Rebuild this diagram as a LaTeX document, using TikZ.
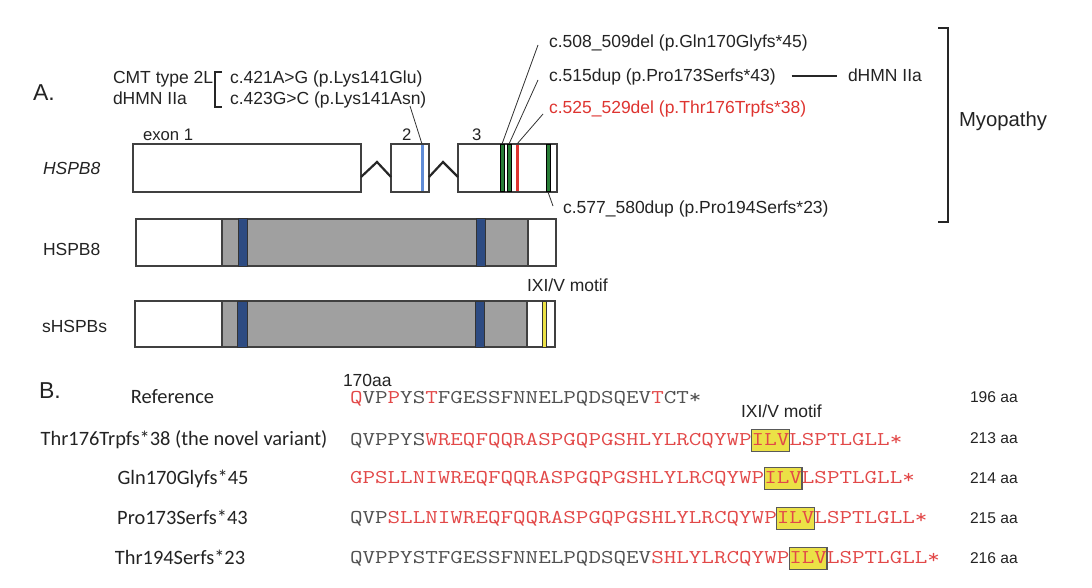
\documentclass[tikz,border=0pt]{standalone}
\usepackage{fontspec}
\setmainfont{Liberation Sans}
\newfontfamily\calfont{Carlito}
\newfontfamily\seqfont[FakeStretch=1.25]{Latin Modern Mono}
\definecolor{txt}{RGB}{35,35,35}
\definecolor{mutred}{RGB}{222,52,48}
\definecolor{seqred}{RGB}{226,72,72}
\definecolor{seqgray}{RGB}{80,80,80}
\definecolor{mutgreen}{RGB}{40,125,55}
\definecolor{mutblue}{RGB}{95,140,215}
\definecolor{acdblue}{RGB}{45,75,130}
\definecolor{coregray}{RGB}{160,160,160}
\definecolor{motifyellow}{RGB}{235,225,70}

\begin{document}
\begin{tikzpicture}[x=1pt, y=-1pt, font=\fontsize{17.5}{20}\selectfont, text=txt]
        \tikzstyle{lab} = [inner sep=0, outer sep=0, anchor=base west]
        \tikzstyle{biglab} = [lab, font=\fontsize{23}{26}\selectfont]
        \tikzstyle{varlab} = [inner sep=0, outer sep=0, anchor=base, font=\calfont\fontsize{20.4}{24}\selectfont]
        \tikzstyle{aalab} = [lab, font=\fontsize{15.6}{18}\selectfont]
        \tikzstyle{exon} = [draw=black!75, line width=1.2pt, fill=white, inner sep=0, outer sep=0, minimum height=48pt, anchor=west]
        \tikzstyle{core} = [draw=black!75, line width=1.2pt, fill=coregray]
        \tikzstyle{acd} = [draw=black!80, line width=1pt, fill=acdblue]
        \tikzstyle{gmark} = [draw=black, line width=0.5pt, fill=mutgreen]
        \tikzstyle{intron} = [draw=black!85, line width=2.2pt]
        \tikzstyle{callout} = [draw=black!80, line width=0.8pt]
        \tikzstyle{brace} = [draw=black!85, line width=2.2pt]
        \tikzstyle{seq} = [inner sep=0, outer sep=0, anchor=base west, text=seqgray, font=\seqfont\fontsize{19.5}{24}\selectfont]
        \tikzstyle{ilv} = [seq, text=seqred, fill=motifyellow, draw=black!65, line width=1.2pt, text height=13pt, text depth=3pt, inner ysep=3pt]

        \useasboundingbox (0,0) rectangle (1092,588);

        \node[biglab] (A) at (33,101) {A.};
        \node[lab] (cmt) at (113,84) {CMT type 2L};
        \node[lab] (dhmn1) at (113,105) {dHMN IIa};
        \node[lab] (c421) at (230,84) {c.421A>G (p.Lys141Glu)};
        \node[lab] (c423) at (230,105) {c.423G>C (p.Lys141Asn)};
        \draw[brace] (222,72) -- (215,72) -- (215,107) -- (222,107);

        \node[lab] (c508) at (549,48) {c.508\_509del (p.Gln170Glyfs*45)};
        \node[lab] (c515) at (549,82) {c.515dup (p.Pro173Serfs*43)};
        \node[lab, text=mutred] (c525) at (549,114) {c.525\_529del (p.Thr176Trpfs*38)};
        \node[lab] (c577) at (563,214) {c.577\_580dup (p.Pro194Serfs*23)};
        \node[lab] (dhmn2) at (848,82) {dHMN IIa};
        \draw[brace] ([xshift=16pt,yshift=6pt]c515.base east) -- ([xshift=-11pt,yshift=6pt]dhmn2.base west);
        \draw[brace] (938,28) -- (948,28) -- (948,222) -- (938,222);
        \node[lab, font=\fontsize{20.3}{24}\selectfont] (myo) at (959,127) {Myopathy};

        \node[lab, font=\fontsize{17.5}{20}\itshape] (gene) at (43,175) {HSPB8};
        \node[lab, font=\fontsize{16.7}{20}\selectfont] (ex1lab) at (143,141) {exon 1};
        \node[lab, font=\fontsize{16.7}{20}\selectfont] (ex2lab) at (402,141) {2};
        \node[lab, font=\fontsize{16.7}{20}\selectfont] (ex3lab) at (472,141) {3};
        \node[exon, minimum width=228pt] (ex1) at (133,168) {};
        \node[exon, minimum width=38pt] (ex2) at (391,168) {};
        \node[exon, minimum width=99pt] (ex3) at (458,168) {};
        \draw[intron] ([yshift=-9pt]ex1.east) -- (377,162) -- ([yshift=-9pt]ex2.west);
        \draw[intron] ([yshift=-9pt]ex2.east) -- (443,162) -- ([yshift=-9pt]ex3.west);
        \fill[mutblue] (420.6,144.6) rectangle (423.6,191.4);
        \draw[gmark] (500,144.6) rectangle (504,191.4);
        \draw[gmark] (507,144.6) rectangle (511,191.4);
        \fill[mutred] (515.5,144.6) rectangle (518.8,191.4);
        \draw[gmark] (546,144.6) rectangle (550,191.4);

        \coordinate (m421) at (422,144);
        \coordinate (m508) at (502,144);
        \coordinate (m515) at (509,144);
        \coordinate (m525) at (517,144);
        \coordinate (m577) at (548,192);
        \coordinate (t421) at (410,106);
        \coordinate (t508) at (538,45);
        \coordinate (t515) at (538,80);
        \coordinate (t525) at (543,114);
        \coordinate (t577) at (553,206);
        \path[callout]
                (t421) edge (m421)
                (t508) edge (m508)
                (t515) edge (m515)
                (t525) edge (m525)
                (m577) edge (t577);

        \node[lab] (plab) at (43,255) {HSPB8};
        \node[exon, minimum width=420pt, minimum height=47pt] (hspb8) at (136,242.5) {};
        \draw[core] (222,219) rectangle (528,266);
        \draw[acd] (238,219) rectangle (247,266);
        \draw[acd] (476,219) rectangle (485,266);

        \node[lab] (slab) at (42,332) {sHSPBs};
        \node[lab] (motif1) at (527,291) {IXI/V motif};
        \node[exon, minimum width=420pt, minimum height=46pt] (shspb) at (135,324) {};
        \draw[core] (222,301) rectangle (527,347);
        \draw[acd] (237,301) rectangle (247,347);
        \draw[acd] (475,301) rectangle (484,347);
        \draw[draw=black!80, line width=0.8pt, fill=motifyellow] (542,301) rectangle (546,347);

        \node[biglab] (B) at (39,398) {B.};
        \node[lab] (pos) at (343,386) {170aa};
        \node[lab] (motif2) at (741,417) {IXI/V motif};

        \node[varlab] (n0) at (172.5,403) {Reference};
        \node[varlab] (n1) at (184,445) {Thr176Trpfs*38 (the novel variant)};
        \node[varlab] (n2) at (183,484) {Gln170Glyfs*45};
        \node[varlab] (n3) at (182.5,524) {Pro173Serfs*43};
        \node[varlab] (n4) at (180,564) {Thr194Serfs*23};

        \node[seq] (s0) at (350,403) {\textcolor{seqred}{Q}VP\textcolor{seqred}{P}YS\textcolor{seqred}{T}FGESSFNNELPQDSQEV\textcolor{seqred}{T}CT*};

        \node[seq] (s1a) at (350,445.5) {QVPPYS\textcolor{seqred}{WREQFQQRASPGQPGSHLYLRCQYWP}};
        \node[ilv] (ilv1) at (s1a.base east) {ILV};
        \node[seq, text=seqred] (s1c) at (ilv1.base east) {LSPTLGLL*};

        \node[seq, text=seqred] (s2a) at (350,483.5) {GPSLLNIWREQFQQRASPGQPGSHLYLRCQYWP};
        \node[ilv] (ilv2) at (s2a.base east) {ILV};
        \node[seq, text=seqred] (s2c) at (ilv2.base east) {LSPTLGLL*};

        \node[seq] (s3a) at (350,523.5) {QVP\textcolor{seqred}{SLLNIWREQFQQRASPGQPGSHLYLRCQYWP}};
        \node[ilv] (ilv3) at (s3a.base east) {ILV};
        \node[seq, text=seqred] (s3c) at (ilv3.base east) {LSPTLGLL*};

        \node[seq] (s4a) at (350,563.5) {QVPPYSTFGESSFNNELPQDSQEV\textcolor{seqred}{SHLYLRCQYWP}};
        \node[ilv] (ilv4) at (s4a.base east) {ILV};
        \node[seq, text=seqred] (s4c) at (ilv4.base east) {LSPTLGLL*};

        \node[aalab] (l0) at (970,402) {196 aa};
        \node[aalab] (l1) at (970,443) {213 aa};
        \node[aalab] (l2) at (970,483) {214 aa};
        \node[aalab] (l3) at (970,523) {215 aa};
        \node[aalab] (l4) at (970,563) {216 aa};
\end{tikzpicture}
\end{document}
